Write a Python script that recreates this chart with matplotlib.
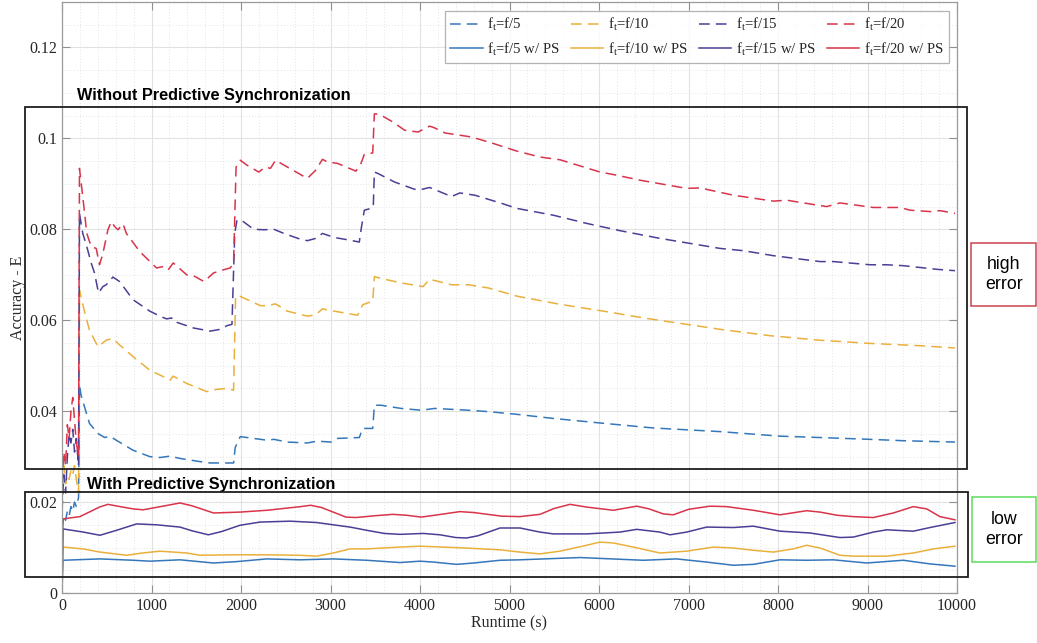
import matplotlib
matplotlib.use("Agg")
import matplotlib.pyplot as plt
from matplotlib.patches import Rectangle
from matplotlib.ticker import MultipleLocator, FuncFormatter

plt.rcParams["font.family"] = ["Liberation Serif", "DejaVu Serif"]
plt.rcParams["mathtext.fontset"] = "custom"
plt.rcParams["mathtext.rm"] = "Liberation Serif"
plt.rcParams["mathtext.it"] = "Liberation Serif:italic"

# ---- data: accuracy error over runtime ----
# without predictive synchronization (dashed)
x_f5 = [0, 20, 40, 60, 80, 100, 120, 140, 160, 185, 195, 213, 307, 401, 476, 532, 607, 794, 981,
        1094, 1206, 1318, 1543, 1655, 1917, 1935, 1992, 2142, 2292, 2367, 2517, 2741, 2850, 3004,
        3078, 3322, 3359, 3472, 3490, 3565, 3790, 4014, 4164, 4540, 4763, 5082, 5490, 6011, 6607,
        7352, 8022, 8469, 9028, 9400, 9977]
y_f5 = [0.014, 0.017, 0.016, 0.018, 0.017, 0.019, 0.018, 0.020, 0.019, 0.021, 0.0457, 0.0435,
        0.0373, 0.0351, 0.0342, 0.0345, 0.0336, 0.0314, 0.0300, 0.0298, 0.0301, 0.0296, 0.0289,
        0.0286, 0.0286, 0.0320, 0.0344, 0.0340, 0.0336, 0.0338, 0.0332, 0.0330, 0.0334, 0.0332,
        0.0340, 0.0342, 0.0362, 0.0362, 0.0413, 0.0413, 0.0406, 0.0402, 0.0406, 0.0402, 0.0399,
        0.0393, 0.0384, 0.0374, 0.0363, 0.0355, 0.0345, 0.0342, 0.0338, 0.0335, 0.0332]

x_f10 = [0, 20, 40, 60, 80, 100, 120, 140, 160, 185, 195, 250, 307, 401, 494, 569, 625, 794, 981,
         1131, 1206, 1243, 1393, 1618, 1730, 1843, 1917, 1940, 1985, 2217, 2292, 2386, 2517, 2741,
         2835, 2910, 3041, 3303, 3359, 3472, 3490, 3565, 3790, 4033, 4108, 4352, 4540, 4763, 5082,
         5564, 6049, 6533, 6980, 7352, 7910, 8469, 9028, 9586, 9977]
y_f10 = [0.020, 0.028, 0.024, 0.026, 0.025, 0.027, 0.026, 0.028, 0.025, 0.022, 0.0666, 0.0620,
         0.0578, 0.0542, 0.0556, 0.0560, 0.0549, 0.0520, 0.0490, 0.0476, 0.0468, 0.0477, 0.0461,
         0.0443, 0.0448, 0.0450, 0.0446, 0.0653, 0.0653, 0.0632, 0.0632, 0.0636, 0.0620, 0.0609,
         0.0612, 0.0625, 0.0620, 0.0611, 0.0634, 0.0642, 0.0696, 0.0692, 0.0682, 0.0674, 0.0690,
         0.0678, 0.0678, 0.0671, 0.0653, 0.0635, 0.0620, 0.0604, 0.0591, 0.0580, 0.0566, 0.0556,
         0.0549, 0.0544, 0.0539]

x_f15 = [0, 20, 40, 60, 80, 100, 120, 140, 160, 185, 195, 232, 277, 326, 363, 408, 457, 494, 569,
         644, 794, 981, 1094, 1168, 1225, 1243, 1468, 1655, 1768, 1843, 1899, 1930, 1955, 2011,
         2142, 2254, 2367, 2479, 2666, 2741, 2835, 2910, 3041, 3191, 3322, 3341, 3378, 3453, 3478,
         3490, 3528, 3716, 3940, 4000, 4108, 4352, 4445, 4613, 4913, 5082, 5490, 5862, 6235, 6682,
         7017, 7352, 7613, 7948, 8470, 8619, 9029, 9215, 9401, 9774, 9978]
y_f15 = [0.018, 0.026, 0.022, 0.030, 0.035, 0.033, 0.036, 0.031, 0.034, 0.028, 0.0835, 0.0791,
         0.0762, 0.0726, 0.0704, 0.0660, 0.0674, 0.0678, 0.0695, 0.0685, 0.0645, 0.0620, 0.0609,
         0.0603, 0.0605, 0.0598, 0.0583, 0.0576, 0.0580, 0.0588, 0.0591, 0.0791, 0.0820, 0.0819,
         0.0800, 0.0799, 0.0800, 0.0791, 0.0778, 0.0775, 0.0780, 0.0791, 0.0782, 0.0777, 0.0772,
         0.0799, 0.0842, 0.0846, 0.0849, 0.0926, 0.0923, 0.0904, 0.0888, 0.0887, 0.0892, 0.0872,
         0.0880, 0.0875, 0.0857, 0.0846, 0.0831, 0.0813, 0.0797, 0.0780, 0.0769, 0.0758, 0.0753,
         0.0742, 0.0729, 0.0729, 0.0722, 0.0722, 0.0720, 0.0712, 0.0709]

x_f20 = [0, 20, 40, 60, 80, 100, 120, 140, 160, 185, 195, 232, 277, 326, 382, 419, 457, 513, 551,
         588, 625, 682, 719, 869, 1056, 1131, 1187, 1243, 1393, 1468, 1588, 1693, 1805, 1880, 1917,
         1945, 1992, 2067, 2198, 2273, 2329, 2386, 2517, 2741, 2835, 2910, 2966, 3078, 3284, 3341,
         3378, 3472, 3490, 3547, 3697, 3828, 3978, 4108, 4164, 4277, 4445, 4576, 4801, 5082, 5341,
         5564, 6011, 6198, 6458, 6980, 7129, 7501, 7948, 8097, 8544, 8693, 9066, 9364, 9476, 9699,
         9811, 9978]
y_f20 = [0.024, 0.031, 0.028, 0.037, 0.034, 0.040, 0.043, 0.038, 0.033, 0.030, 0.0934, 0.0872,
         0.0791, 0.0762, 0.0758, 0.0722, 0.0747, 0.0799, 0.0817, 0.0806, 0.0799, 0.0812, 0.0791,
         0.0751, 0.0715, 0.0718, 0.0711, 0.0726, 0.0700, 0.0698, 0.0685, 0.0704, 0.0711, 0.0715,
         0.0726, 0.0937, 0.0952, 0.0941, 0.0926, 0.0937, 0.0934, 0.0952, 0.0937, 0.0912, 0.0930,
         0.0954, 0.0948, 0.0945, 0.0928, 0.0945, 0.0965, 0.0968, 0.1054, 0.1053, 0.1036, 0.1018,
         0.1014, 0.1027, 0.1023, 0.1012, 0.1007, 0.1003, 0.0990, 0.0972, 0.0959, 0.0953, 0.0926,
         0.0919, 0.0908, 0.0890, 0.0891, 0.0875, 0.0862, 0.0864, 0.0850, 0.0858, 0.0848, 0.0848,
         0.0842, 0.0839, 0.0841, 0.0835]

# with predictive synchronization (solid)
x_f5_ps = [0, 10, 424, 797, 983, 1318, 1691, 1950, 2287, 2659, 3031, 3404, 3776, 4000, 4150, 4409,
           4600, 4894, 5117, 5787, 6495, 6867, 7203, 7501, 7724, 8022, 8320, 8618, 8990, 9400,
           9698, 9977]
y_f5_ps = [0.0, 0.0072, 0.0075, 0.0072, 0.0070, 0.0073, 0.0066, 0.0069, 0.0075, 0.0073, 0.0075,
           0.0072, 0.0067, 0.0070, 0.0068, 0.0063, 0.0066, 0.0072, 0.0073, 0.0078, 0.0072, 0.0075,
           0.0068, 0.0061, 0.0063, 0.0073, 0.0072, 0.0073, 0.0066, 0.0072, 0.0064, 0.0059]

x_f10_ps = [0, 10, 238, 424, 722, 900, 1095, 1393, 1542, 1914, 2287, 2659, 2845, 3031, 3218, 3404,
            3776, 4000, 4260, 4500, 4894, 5117, 5340, 5564, 5862, 6011, 6160, 6383, 6681, 6979,
            7277, 7501, 7724, 7947, 8171, 8320, 8469, 8692, 8841, 9214, 9512, 9735, 9977]
y_f10_ps = [0.0, 0.0101, 0.0097, 0.0090, 0.0083, 0.0088, 0.0092, 0.0088, 0.0083, 0.0084, 0.0084,
            0.0083, 0.0081, 0.0088, 0.0097, 0.0097, 0.0101, 0.0103, 0.0101, 0.0099, 0.0095, 0.0090,
            0.0086, 0.0092, 0.0105, 0.0112, 0.0110, 0.0101, 0.0088, 0.0092, 0.0101, 0.0099, 0.0094,
            0.0090, 0.0097, 0.0105, 0.0099, 0.0083, 0.0081, 0.0081, 0.0088, 0.0097, 0.0103]

x_f15_ps = [0, 10, 238, 424, 611, 834, 1058, 1318, 1450, 1635, 1780, 1989, 2212, 2547, 2845, 3218,
            3404, 3600, 3776, 4037, 4223, 4400, 4521, 4650, 4894, 5117, 5340, 5489, 5862, 6234,
            6421, 6681, 6793, 6979, 7203, 7501, 7724, 8022, 8357, 8692, 8841, 9065, 9214, 9512,
            9698, 9977]
y_f15_ps = [0.0, 0.0141, 0.0134, 0.0127, 0.0138, 0.0152, 0.0150, 0.0145, 0.0137, 0.0128, 0.0135,
            0.0149, 0.0156, 0.0158, 0.0155, 0.0145, 0.0138, 0.0131, 0.0129, 0.0131, 0.0128, 0.0122,
            0.0121, 0.0126, 0.0143, 0.0143, 0.0134, 0.0130, 0.0130, 0.0134, 0.0140, 0.0134, 0.0128,
            0.0134, 0.0145, 0.0144, 0.0147, 0.0136, 0.0132, 0.0122, 0.0123, 0.0134, 0.0139, 0.0136,
            0.0144, 0.0155]

x_f20_ps = [0, 10, 200, 419, 513, 650, 794, 906, 1100, 1318, 1450, 1693, 1992, 2292, 2666, 2779,
            2900, 3172, 3284, 3500, 3697, 3850, 4014, 4200, 4445, 4600, 4913, 5117, 5340, 5500,
            5676, 5862, 6160, 6421, 6560, 6718, 6830, 7000, 7240, 7426, 7724, 8022, 8320, 8469,
            8660, 8841, 9065, 9288, 9512, 9661, 9810, 9977]
y_f20_ps = [0.0, 0.0163, 0.0168, 0.0189, 0.0195, 0.0190, 0.0185, 0.0183, 0.0190, 0.0198, 0.0192,
            0.0176, 0.0178, 0.0182, 0.0190, 0.0193, 0.0188, 0.0167, 0.0166, 0.0170, 0.0173, 0.0171,
            0.0167, 0.0172, 0.0179, 0.0177, 0.0169, 0.0168, 0.0173, 0.0186, 0.0195, 0.0189, 0.0182,
            0.0191, 0.0185, 0.0174, 0.0172, 0.0184, 0.0191, 0.0190, 0.0182, 0.0172, 0.0181, 0.0178,
            0.0171, 0.0168, 0.0166, 0.0176, 0.0190, 0.0185, 0.0168, 0.0161]

labels = ["f/5", "f/10", "f/15", "f/20"]
colors = ["#3577BA", "#EAB03C", "#4A3F96", "#D8344A"]
x_ticks = list(range(0, 10001, 1000))
y_ticks = [0, 0.02, 0.04, 0.06, 0.08, 0.1, 0.12]

W, H = 1037, 643
fig = plt.figure(figsize=(W / 100, H / 100), dpi=100)
ax = fig.add_axes([62 / W, 1 - 593 / H, 895 / W, 591 / H])

dashed = [(x_f5, y_f5), (x_f10, y_f10), (x_f15, y_f15), (x_f20, y_f20)]
solid = [(x_f5_ps, y_f5_ps), (x_f10_ps, y_f10_ps), (x_f15_ps, y_f15_ps), (x_f20_ps, y_f20_ps)]

handles = []
for (xd, yd), (xs, ys), lab, col in zip(dashed, solid, labels, colors):
    hd, = ax.plot(xd, yd, color=col, lw=1.1, linestyle=(0, (7, 4)),
                  label=r"$\mathrm{f_t}$=" + lab)
    hs, = ax.plot(xs, ys, color=col, lw=1.1, label=r"$\mathrm{f_t}$=" + lab + " w/ PS")
    handles += [hd, hs]

ax.set_xlim(0, 10000)
ax.set_ylim(0, 0.13)
ax.set_xticks(x_ticks)
ax.set_yticks(y_ticks)
ax.yaxis.set_major_formatter(FuncFormatter(lambda v, p: "%g" % v))
ax.xaxis.set_minor_locator(MultipleLocator(200))
ax.yaxis.set_minor_locator(MultipleLocator(0.005))
ax.grid(True, which="major", color="#e2e2e2", lw=0.8)
ax.grid(True, which="minor", color="#dcdcdc", lw=0.6, linestyle=(0, (1, 2.5)))
ax.set_axisbelow(True)
ax.tick_params(which="major", direction="in", top=True, right=True, length=6, width=0.8,
               color="#909090", labelsize=11.5, labelcolor="#262626")
ax.tick_params(which="minor", length=0, top=True, right=True)
for s in ax.spines.values():
    s.set_color("#9a9a9a")
    s.set_linewidth(0.9)

ax.set_xlabel("Runtime (s)", fontsize=11.5, color="#262626", labelpad=1)
ax.set_ylabel("Accuracy - E", fontsize=11.5, color="#262626", labelpad=2)

leg = ax.legend(handles=handles, ncol=4, loc="upper right", bbox_to_anchor=(0.991, 0.985),
                fontsize=10.6, frameon=True, fancybox=False, handlelength=2.2,
                handletextpad=0.3, columnspacing=0.75, borderpad=0.35, labelspacing=0.5,
                borderaxespad=0)
leg.get_frame().set_edgecolor("#a0a0a0")
leg.get_frame().set_linewidth(0.9)
for t in leg.get_texts():
    t.set_color("#262626")


def fx(px):
    return px / W


def fy(py):
    return 1 - py / H


def box(x0, y0, x1, y1, ec, lw):
    fig.add_artist(Rectangle((fx(x0), fy(y1)), fx(x1) - fx(x0), fy(y0) - fy(y1),
                             transform=fig.transFigure, fill=False, ec=ec, lw=lw, zorder=10))


sans = ["Liberation Sans", "DejaVu Sans"]
box(25, 107, 967, 469, "#1e1e1e", 1.3)
box(25, 492, 968, 577, "#1e1e1e", 1.3)
fig.text(fx(77), fy(100), "Without Predictive Synchronization", family=sans, weight="bold",
         fontsize=11.7, ha="left", va="baseline")
fig.text(fx(87), fy(489), "With Predictive Synchronization", family=sans, weight="bold",
         fontsize=11.7, ha="left", va="baseline")

box(971, 243, 1036, 306, "#c9454f", 1.1)
fig.text(fx(1004), fy(274.5), "high\nerror", family=sans, fontsize=12.8, ha="center",
         va="center", linespacing=1.25)
box(972, 497, 1036, 562, "#5ddc5a", 1.1)
fig.text(fx(1004), fy(529.5), "low\nerror", family=sans, fontsize=12.8, ha="center",
         va="center", linespacing=1.25)

fig.savefig("out.png", dpi=100)
